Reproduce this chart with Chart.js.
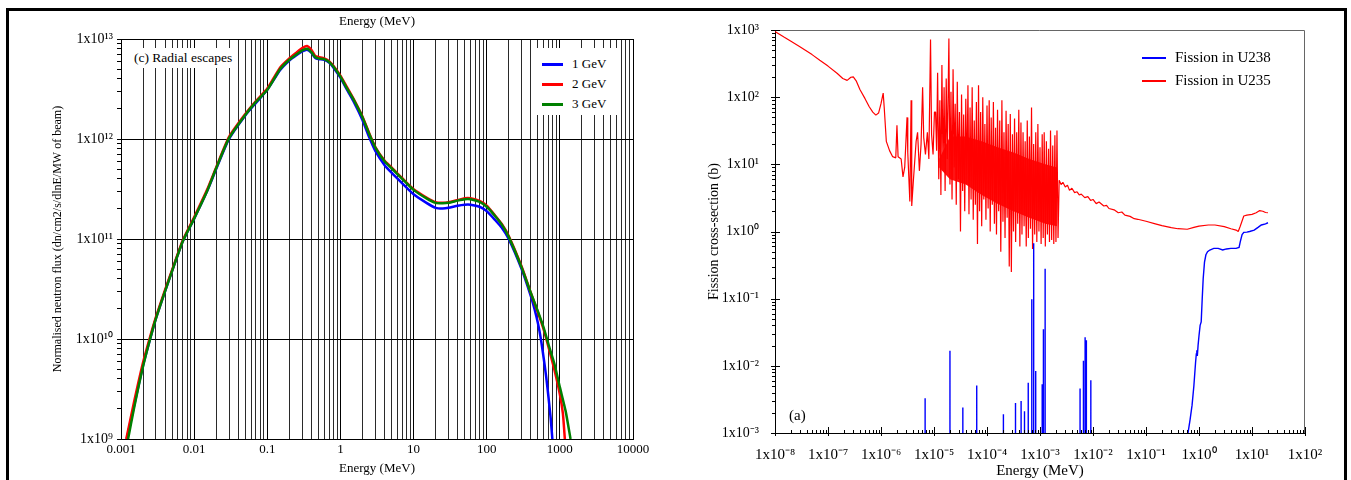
<!DOCTYPE html>
<html>
<head>
<meta charset="utf-8">
<script src="https://cdn.jsdelivr.net/npm/chart.js@4.4.1/dist/chart.umd.min.js"></script>
<style>
    body { margin: 0; background: #fff; width: 1351px; height: 480px; overflow: hidden; position: relative;
           font-family: 'Liberation Serif', 'Times New Roman', serif; color: #000; }
    #frame { position: absolute; left: 6px; top: 8px; width: 1341px; height: 480px; border: 3px solid #000;
             border-bottom: none; box-sizing: border-box; }
    canvas { position: absolute; top: 0; }
    #fluxChart { left: 0; }
    #fissionChart { left: 680px; }
    .box { position: absolute; background: #fff; white-space: nowrap; }
    .row { position: absolute; left: 0; right: 0; }
    .swatch { position: absolute; }
    .lbl { position: absolute; top: 0; }
</style>
</head>
<body>
<div id="frame"></div>
<canvas id="fluxChart" width="680" height="480"></canvas>
<canvas id="fissionChart" width="671" height="480"></canvas>
<div class="box" id="radialNote" style="left:131px;top:48px;width:106px;height:20px;line-height:20px;padding-left:3px;box-sizing:border-box;font-size:13.5px;">(c) Radial escapes</div>
<div class="box" id="fluxLegend" style="left:532px;top:48px;width:85px;height:67px;font-size:13px;"></div>
<div class="box" id="fissionLegend" style="left:1142px;top:46px;width:140px;height:48px;font-size:15px;background:transparent;"></div>
<div class="box" style="left:789px;top:407px;font-size:15px;background:transparent;">(a)</div>
<script>
// left panel: radial escape spectra (E in MeV, flux per MW of beam)
const energy1GeV = [0.0012, 0.0015, 0.002, 0.0025, 0.003, 0.004, 0.005, 0.007,
    0.01, 0.015, 0.02, 0.03, 0.05, 0.07,
    0.1, 0.15, 0.2, 0.25, 0.3, 0.35, 0.4, 0.45, 0.5, 0.6, 0.7, 0.8,
    1, 1.2, 1.5, 2, 2.5, 3, 4, 5, 7,
    10, 15, 20, 25, 30, 40, 50, 60, 80,
    100, 130, 160, 200, 300, 400, 450, 500, 550, 600, 650, 700, 750, 790];
const flux1GeV = [1e9, 2.1e9, 5.4e9, 1.0e10, 1.6e10, 3.0e10, 4.8e10, 9.5e10,
    1.6e11, 3.0e11, 5.0e11, 1.0e12, 1.72e12, 2.3e12,
    3.1e12, 4.9e12, 6.1e12, 6.9e12, 7.5e12, 7.8e12, 7.3e12, 6.5e12, 6.3e12, 6.2e12, 5.8e12, 5.2e12,
    4.1e12, 3.2e12, 2.4e12, 1.55e12, 1.02e12, 7.6e11, 5.5e11, 4.6e11, 3.6e11,
    2.8e11, 2.3e11, 2.05e11, 2.02e11, 2.05e11, 2.15e11, 2.2e11, 2.2e11, 2.1e11,
    1.9e11, 1.55e11, 1.3e11, 1.0e11, 5.0e10, 2.7e10, 2.0e10, 1.45e10, 1.0e10, 6.5e9, 4.2e9, 2.6e9, 1.6e9, 1.0e9];

const energy2GeV = [0.00118, 0.0015, 0.002, 0.0025, 0.003, 0.004, 0.005, 0.007,
    0.01, 0.015, 0.02, 0.03, 0.05, 0.07,
    0.1, 0.15, 0.2, 0.25, 0.3, 0.35, 0.4, 0.45, 0.5, 0.6, 0.7, 0.8,
    1, 1.2, 1.5, 2, 2.5, 3, 4, 5, 7,
    10, 15, 20, 25, 30, 40, 50, 60, 80,
    100, 130, 160, 200, 300, 400, 500, 600, 700, 850, 1000, 1100, 1170];
const flux2GeV = [1e9, 2.3e9, 5.8e9, 1.05e10, 1.65e10, 3.1e10, 4.9e10, 9.7e10,
    1.65e11, 3.1e11, 5.2e11, 1.05e12, 1.78e12, 2.4e12,
    3.2e12, 5.2e12, 6.4e12, 7.3e12, 8.1e12, 8.5e12, 7.8e12, 6.8e12, 6.6e12, 6.4e12, 6.0e12, 5.4e12,
    4.3e12, 3.4e12, 2.55e12, 1.68e12, 1.12e12, 8.3e11, 6.1e11, 5.2e11, 4.05e11,
    3.15e11, 2.6e11, 2.33e11, 2.3e11, 2.33e11, 2.45e11, 2.55e11, 2.55e11, 2.4e11,
    2.15e11, 1.72e11, 1.42e11, 1.07e11, 5.3e10, 2.9e10, 1.85e10, 1.25e10, 8.3e9, 4.8e9, 2.8e9, 1.8e9, 1.0e9];

const energy3GeV = [0.00125, 0.0015, 0.002, 0.0025, 0.003, 0.004, 0.005, 0.007,
    0.01, 0.015, 0.02, 0.03, 0.05, 0.07,
    0.1, 0.15, 0.2, 0.25, 0.3, 0.35, 0.4, 0.45, 0.5, 0.6, 0.7, 0.8,
    1, 1.2, 1.5, 2, 2.5, 3, 4, 5, 7,
    10, 15, 20, 25, 30, 40, 50, 60, 80,
    100, 130, 160, 200, 300, 400, 500, 600, 700, 850, 1000, 1200, 1400];
const flux3GeV = [1e9, 2.0e9, 5.3e9, 1.0e10, 1.6e10, 3.0e10, 4.8e10, 9.5e10,
    1.6e11, 3.0e11, 5.1e11, 1.02e12, 1.74e12, 2.35e12,
    3.1e12, 5.0e12, 6.2e12, 7.0e12, 7.7e12, 8.0e12, 7.4e12, 6.6e12, 6.4e12, 6.3e12, 5.9e12, 5.3e12,
    4.2e12, 3.3e12, 2.5e12, 1.65e12, 1.1e12, 8.2e11, 6.0e11, 5.1e11, 4.0e11,
    3.1e11, 2.55e11, 2.3e11, 2.28e11, 2.3e11, 2.42e11, 2.5e11, 2.5e11, 2.35e11,
    2.1e11, 1.7e11, 1.4e11, 1.05e11, 5.2e10, 2.9e10, 1.9e10, 1.3e10, 8.8e9, 5.5e9, 3.3e9, 1.9e9, 1.0e9];

const fluxDecades = [1e9, 1e10, 1e11, 1e12, 1e13];
const energyDecades = [0.001, 0.01, 0.1, 1, 10, 100, 1000, 10000];
const energyLabels = ['0.001', '0.01', '0.1', '1', '10', '100', '1000', '10000'];

// right panel: fission cross-sections (b)
const u235HeadEnergy = [1e-8, 1.5e-8, 2e-8, 3e-8, 5e-8, 7e-8, 1e-7, 1.5e-7, 1.9e-7, 2.3e-7,
    2.7e-7, 3.0e-7, 3.4e-7, 4e-7, 5e-7, 6e-7, 7e-7, 8e-7, 9e-7, 1.0e-6,
    1.1e-6, 1.15e-6, 1.26e-6, 1.45e-6, 1.66e-6, 1.9e-6, 2.0e-6, 2.1e-6, 2.4e-6, 2.6e-6,
    2.8e-6, 3.1e-6, 3.2e-6, 3.5e-6, 3.7e-6, 3.8e-6, 4.1e-6, 4.6e-6, 4.9e-6, 5.3e-6,
    5.7e-6, 6.1e-6, 6.4e-6, 6.9e-6, 7.5e-6, 8.0e-6, 8.6e-6, 9.0e-6, 9.6e-6, 1.02e-5];
const u235HeadSigma = [950, 780, 680, 560, 430, 355, 290, 225, 190, 178,
    198, 200, 175, 130, 95, 72, 60, 54, 58, 80,
    115, 70, 22, 16, 13, 12.5, 38, 13, 12, 6.5,
    9, 50, 15, 2.8, 90, 2.4, 6, 22, 30, 8,
    20, 140, 25, 14, 30, 12, 720, 28, 14, 60];

// resolved resonance region, peak then trough
const u235ResEnergy = [
    1.07e-5, 1.12e-5, 1.17e-5, 1.23e-5, 1.29e-5, 1.35e-5, 1.41e-5, 1.48e-5, 1.55e-5, 1.62e-5,
    1.70e-5, 1.78e-5, 1.91e-5, 2.00e-5, 2.09e-5, 2.19e-5, 2.29e-5, 2.40e-5, 2.51e-5, 2.63e-5,
    2.75e-5, 2.88e-5, 3.02e-5, 3.16e-5, 3.31e-5, 3.47e-5, 3.63e-5, 3.80e-5, 3.98e-5, 4.17e-5,
    4.37e-5, 4.57e-5, 4.79e-5, 5.01e-5, 5.25e-5, 5.50e-5, 5.75e-5, 6.03e-5, 6.31e-5, 6.61e-5,
    6.92e-5, 7.24e-5, 7.59e-5, 7.94e-5, 8.32e-5, 8.71e-5, 9.12e-5, 9.55e-5, 1.00e-4, 1.05e-4,
    1.10e-4, 1.15e-4, 1.20e-4, 1.26e-4, 1.32e-4, 1.38e-4, 1.45e-4, 1.51e-4, 1.58e-4, 1.66e-4,
    1.74e-4, 1.82e-4, 1.91e-4, 2.00e-4, 2.09e-4, 2.19e-4, 2.29e-4, 2.40e-4, 2.51e-4, 2.63e-4,
    2.75e-4, 2.88e-4, 3.02e-4, 3.16e-4, 3.31e-4, 3.47e-4, 3.63e-4, 3.80e-4, 3.98e-4, 4.17e-4,
    4.37e-4, 4.57e-4, 4.79e-4, 5.01e-4, 5.25e-4, 5.50e-4, 5.75e-4, 6.03e-4, 6.31e-4, 6.61e-4,
    6.92e-4, 7.24e-4, 7.59e-4, 7.94e-4, 8.32e-4, 8.71e-4, 9.12e-4, 9.55e-4, 1.00e-3, 1.05e-3,
    1.10e-3, 1.15e-3, 1.20e-3, 1.26e-3, 1.32e-3, 1.38e-3, 1.45e-3, 1.51e-3, 1.58e-3, 1.66e-3,
    1.74e-3, 1.82e-3, 1.91e-3, 2.00e-3, 2.09e-3, 2.19e-3];
const u235ResSigma = [
    60, 16, 230, 6, 90, 3.5, 300, 8, 140, 4,
    190, 12, 750, 5, 120, 3, 260, 9, 80, 2.5,
    170, 6, 60, 1.0, 110, 4, 55, 2, 95, 5,
    150, 1.8, 70, 3, 140, 1.5, 45, 2.5, 85, 0.65,
    150, 2, 60, 1.2, 100, 3, 40, 1.5, 75, 2.2,
    90, 1.0, 50, 2.5, 85, 1.3, 35, 0.9, 65, 2,
    45, 0.5, 90, 1.4, 30, 0.8, 63, 1.6, 40, 0.3,
    56, 0.25, 28, 1.0, 48, 0.7, 30, 1.3, 65, 0.6,
    42, 0.9, 30, 1.2, 22, 0.6, 45, 0.8, 26, 1.1,
    70, 0.55, 20, 0.9, 30, 0.7, 40, 1.0, 18, 0.65,
    28, 0.8, 30, 0.6, 22, 0.9, 17, 0.7, 32, 0.75,
    19, 0.65, 27, 0.7, 32, 0.8];

const u235TailEnergy = [2.3e-3, 2.5e-3, 2.7e-3, 3e-3, 3.3e-3, 3.6e-3, 4e-3, 4.5e-3, 5e-3, 5.5e-3,
    6e-3, 7e-3, 8e-3, 9e-3, 1e-2, 1.15e-2, 1.3e-2, 1.6e-2, 1.8e-2, 2e-2,
    2.5e-2, 3e-2, 3.5e-2, 4e-2, 5e-2, 6e-2, 7e-2,
    0.1, 0.15, 0.2, 0.3, 0.4, 0.6, 0.8,
    1, 1.5, 2, 3, 4, 5, 5.5, 6, 7, 8,
    10, 12, 14, 16, 18, 20];
const u235TailSigma = [5.8, 5.0, 5.4, 4.6, 4.9, 4.1, 4.4, 3.8, 3.9, 3.5,
    3.6, 3.2, 3.3, 2.9, 3.0, 2.6, 2.75, 2.4, 2.45, 2.2,
    2.1, 1.9, 1.95, 1.75, 1.68, 1.55, 1.52,
    1.42, 1.3, 1.22, 1.14, 1.1, 1.08, 1.15,
    1.2, 1.25, 1.25, 1.18, 1.1, 1.05, 1.0, 1.2, 1.7, 1.75,
    1.8, 1.9, 2.05, 2.0, 1.92, 1.9];

// dense core of the resonance forest
const u235BandEnergy = [1.25e-5, 2.0e-5, 3.98e-5, 7.94e-5, 1.58e-4, 3.16e-4, 6.31e-4, 1.26e-3, 2.09e-3];
const u235BandTop = [12, 26, 26, 22, 18, 15, 12, 10, 9];
const u235BandBottom = [9, 6, 5, 3.5, 2.6, 2.0, 1.6, 1.3, 1.2];

const u238SpikeEnergy = [6.8e-6, 2.0e-5, 3.5e-5, 6.4e-5, 2.04e-4, 3.45e-4, 4.4e-4, 5.1e-4, 6.0e-4, 7.0e-4,
    7.6e-4, 8.3e-4, 1.1e-3, 1.16e-3, 1.25e-3, 5.7e-3, 6.6e-3, 7.1e-3, 7.5e-3, 9.1e-3];
const u238SpikeTop = [3.3e-3, 0.0168, 2.4e-3, 5.1e-3, 1.9e-3, 2.8e-3, 3.0e-3, 2.1e-3, 5.6e-3, 0.098,
    0.67, 8.4e-3, 5.3e-3, 0.035, 0.28, 4.6e-3, 0.0119, 0.0266, 0.024, 6.1e-3];
const u238Floor = 1e-4;
const u238ThresholdEnergy = [0.55, 0.62, 0.68, 0.74, 0.8, 0.86, 0.89, 0.91, 0.93, 0.96,
    1.0, 1.05, 1.1, 1.15, 1.2, 1.27, 1.35, 1.45, 1.6, 1.9,
    2.3, 2.8, 3.3, 4.0, 5.0, 5.7, 6.0, 6.5, 7.0, 8.0,
    9.0, 11, 13, 15, 18, 20];
const u238ThresholdSigma = [5e-4, 1e-3, 1.6e-3, 2.6e-3, 5e-3, 0.011, 0.015, 0.017, 0.014, 0.02,
    0.028, 0.04, 0.045, 0.1, 0.2, 0.35, 0.45, 0.5, 0.53, 0.56,
    0.56, 0.53, 0.55, 0.56, 0.56, 0.58, 0.7, 0.9, 0.97, 0.98,
    1.0, 1.05, 1.15, 1.25, 1.3, 1.35];

const sigmaDecades = [1e-3, 1e-2, 1e-1, 1, 10, 100, 1000];
const wideEnergyDecades = [1e-8, 1e-7, 1e-6, 1e-5, 1e-4, 1e-3, 1e-2, 1e-1, 1, 10, 100];

Chart.defaults.font.family = "'Liberation Serif', 'Times New Roman', serif";
Chart.defaults.color = '#000';

const SUP = { '0': '\u2070', '1': '\u00b9', '2': '\u00b2', '3': '\u00b3', '4': '\u2074', '5': '\u2075',
              '6': '\u2076', '7': '\u2077', '8': '\u2078', '9': '\u2079', '-': '\u207b' };
const isDecade = v => Math.abs(Math.log10(v) - Math.round(Math.log10(v))) < 1e-6;
const powLabel = v => '1x10' + String(Math.round(Math.log10(v))).split('').map(c => SUP[c]).join('');
const withMinors = decades => {
    const out = [];
    decades.forEach((d, i) => {
        out.push(d);
        if (i < decades.length - 1) for (let k = 2; k <= 9; k++) out.push(d * k);
    });
    return out;
};
const toPoints = (xs, ys) => xs.map((x, i) => ({ x, y: ys[i] }));

function buildLegend(chart, el, opts) {
    chart.data.datasets.filter(d => d.label).forEach((d, i) => {
        const row = document.createElement('div');
        row.className = 'row';
        row.style.top = (opts.top + i * opts.step) + 'px';
        row.style.height = opts.step + 'px';
        row.style.lineHeight = opts.step + 'px';
        const sw = document.createElement('span');
        sw.className = 'swatch';
        sw.style.left = opts.lineLeft + 'px';
        sw.style.width = opts.lineWidth + 'px';
        sw.style.top = Math.round(opts.step / 2 - opts.thick / 2) + 'px';
        sw.style.height = opts.thick + 'px';
        sw.style.background = d.borderColor;
        const tx = document.createElement('span');
        tx.className = 'lbl';
        tx.style.left = opts.textLeft + 'px';
        tx.textContent = d.label;
        row.appendChild(sw);
        row.appendChild(tx);
        el.appendChild(row);
    });
}

// ---------- left chart ----------
const fluxChart = new Chart(document.getElementById('fluxChart'), {
    type: 'line',
    data: {
        datasets: [
            { label: '1 GeV', data: toPoints(energy1GeV, flux1GeV), borderColor: '#0000ff', order: 3 },
            { label: '2 GeV', data: toPoints(energy2GeV, flux2GeV), borderColor: '#ff0000', order: 2 },
            { label: '3 GeV', data: toPoints(energy3GeV, flux3GeV), borderColor: '#008000', order: 1 }
        ].map(d => Object.assign(d, { xAxisID: 'x', yAxisID: 'y', borderWidth: 2.5, pointRadius: 0, tension: 0.2, fill: false }))
    },
    options: {
        responsive: false,
        animation: false,
        devicePixelRatio: 1,
        layout: { padding: { left: 0, top: 0, right: 47, bottom: 0 } },
        plugins: { legend: { display: false }, tooltip: { enabled: false } },
        scales: {
            x: {
                type: 'logarithmic', position: 'bottom', min: 0.001, max: 10000,
                afterBuildTicks: s => { s.ticks = withMinors(energyDecades).map(v => ({ value: v })); },
                afterFit: s => { s.height = 41; },
                ticks: {
                    autoSkip: false, maxRotation: 0, minRotation: 0, padding: 3, font: { size: 13 },
                    callback: v => isDecade(v) ? energyLabels[energyDecades.findIndex(d => Math.abs(d - v) / d < 1e-6)] : ''
                },
                grid: { drawTicks: false, color: c => isDecade(c.tick.value) ? '#000' : '#2a2a2a', lineWidth: 1 },
                border: { display: true, color: '#000' },
                title: { display: true, text: 'Energy (MeV)', font: { size: 13 }, padding: { top: 0, bottom: 4 } }
            },
            xTop: {
                type: 'logarithmic', position: 'top', min: 0.001, max: 10000,
                afterFit: s => { s.height = 39; },
                ticks: { display: false },
                grid: { display: false },
                border: { display: false },
                title: { display: true, text: 'Energy (MeV)', font: { size: 13 }, padding: { top: 14, bottom: 0 } }
            },
            y: {
                type: 'logarithmic', min: 1e9, max: 1e13,
                afterBuildTicks: s => { s.ticks = withMinors(fluxDecades).map(v => ({ value: v })); },
                afterFit: s => { s.width = 121; },
                ticks: { autoSkip: false, padding: 4, font: { size: 14 }, callback: v => isDecade(v) ? powLabel(v) : '' },
                grid: { color: c => isDecade(c.tick.value) ? '#000' : 'rgba(0,0,0,0)', tickColor: '#000', tickLength: 4 },
                border: { display: true, color: '#000' },
                title: { display: true, text: 'Normalised neutron flux (dn/cm2/s/dlnE/MW of beam)', font: { size: 12 }, padding: { top: 51, bottom: 0 } }
            }
        }
    }
});
buildLegend(fluxChart, document.getElementById('fluxLegend'), { top: 6, step: 20, lineLeft: 10, lineWidth: 21, thick: 2.5, textLeft: 40 });

// ---------- right chart ----------
const u238Points = [];
u238SpikeEnergy.forEach((e, i) => {
    u238Points.push({ x: e, y: u238Floor }, { x: e, y: u238SpikeTop[i] }, { x: e, y: u238Floor });
});
toPoints(u238ThresholdEnergy, u238ThresholdSigma).forEach(p => u238Points.push(p));

const u235Points = toPoints(u235HeadEnergy, u235HeadSigma)
    .concat(toPoints(u235ResEnergy, u235ResSigma))
    .concat(toPoints(u235TailEnergy, u235TailSigma));

const boxTicks = {
    id: 'boxTicks',
    afterDraw(chart) {
        const { ctx, chartArea: a, scales } = chart;
        ctx.save();
        ctx.lineWidth = 1;
        ctx.strokeStyle = '#666';
        ctx.beginPath();
        ctx.moveTo(a.left, a.top + 0.5);
        ctx.lineTo(a.right - 0.5, a.top + 0.5);
        ctx.lineTo(a.right - 0.5, a.bottom);
        ctx.stroke();
        ctx.strokeStyle = '#000';
        ctx.beginPath();
        scales.x.ticks.forEach(t => {
            const px = Math.round(scales.x.getPixelForValue(t.value)) + 0.5;
            const big = isDecade(t.value);
            ctx.moveTo(px, a.bottom + (big ? 3 : 0));
            ctx.lineTo(px, a.bottom - (big ? 6 : 3));
        });
        scales.y.ticks.forEach(t => {
            const py = Math.round(scales.y.getPixelForValue(t.value)) + 0.5;
            const big = isDecade(t.value);
            ctx.moveTo(a.left - (big ? 4 : 3), py);
            ctx.lineTo(a.left + (big ? 5 : 0), py);
        });
        ctx.stroke();
        ctx.restore();
    }
};

const fissionChart = new Chart(document.getElementById('fissionChart'), {
    type: 'line',
    data: {
        datasets: [
            { label: 'Fission in U238', data: u238Points, borderColor: '#0000ff', borderWidth: 1.4 },
            { label: 'Fission in U235', data: u235Points, borderColor: '#ff0000', borderWidth: 1.2, borderJoinStyle: 'bevel' },
            { data: toPoints(u235BandEnergy, u235BandTop), borderColor: 'rgba(0,0,0,0)', borderWidth: 0, fill: false },
            { data: toPoints(u235BandEnergy, u235BandBottom), borderColor: 'rgba(0,0,0,0)', borderWidth: 0,
              fill: '-1', backgroundColor: 'rgba(255,0,0,0.92)' }
        ].map(d => Object.assign({ xAxisID: 'x', yAxisID: 'y', pointRadius: 0, tension: 0 }, d))
    },
    options: {
        responsive: false,
        animation: false,
        devicePixelRatio: 1,
        layout: { padding: { left: 0, top: 30, right: 46, bottom: 0 } },
        plugins: { legend: { display: false }, tooltip: { enabled: false } },
        scales: {
            x: {
                type: 'logarithmic', position: 'bottom', min: 1e-8, max: 100,
                afterBuildTicks: s => { s.ticks = withMinors(wideEnergyDecades).map(v => ({ value: v })); },
                afterFit: s => { s.height = 47; },
                ticks: { autoSkip: false, maxRotation: 0, minRotation: 0, padding: 5, font: { size: 15 },
                         callback: v => isDecade(v) ? powLabel(v) : '' },
                grid: { display: false },
                border: { display: true, color: '#000' },
                title: { display: true, text: 'Energy (MeV)', font: { size: 15 }, padding: { top: 0, bottom: 0 } }
            },
            y: {
                type: 'logarithmic', min: 1e-3, max: 1e3,
                afterBuildTicks: s => { s.ticks = withMinors(sigmaDecades).map(v => ({ value: v })); },
                afterFit: s => { s.width = 95; },
                ticks: { autoSkip: false, padding: 8, font: { size: 14 }, callback: v => isDecade(v) ? powLabel(v) : '' },
                grid: { display: false },
                border: { display: true, color: '#000' },
                title: { display: true, text: 'Fission cross-section (b)', font: { size: 14 }, padding: { top: 26, bottom: 0 } }
            }
        }
    },
    plugins: [boxTicks]
});
buildLegend(fissionChart, document.getElementById('fissionLegend'), { top: 0, step: 23, lineLeft: 0, lineWidth: 24, thick: 2, textLeft: 33 });
</script>
</body>
</html>
